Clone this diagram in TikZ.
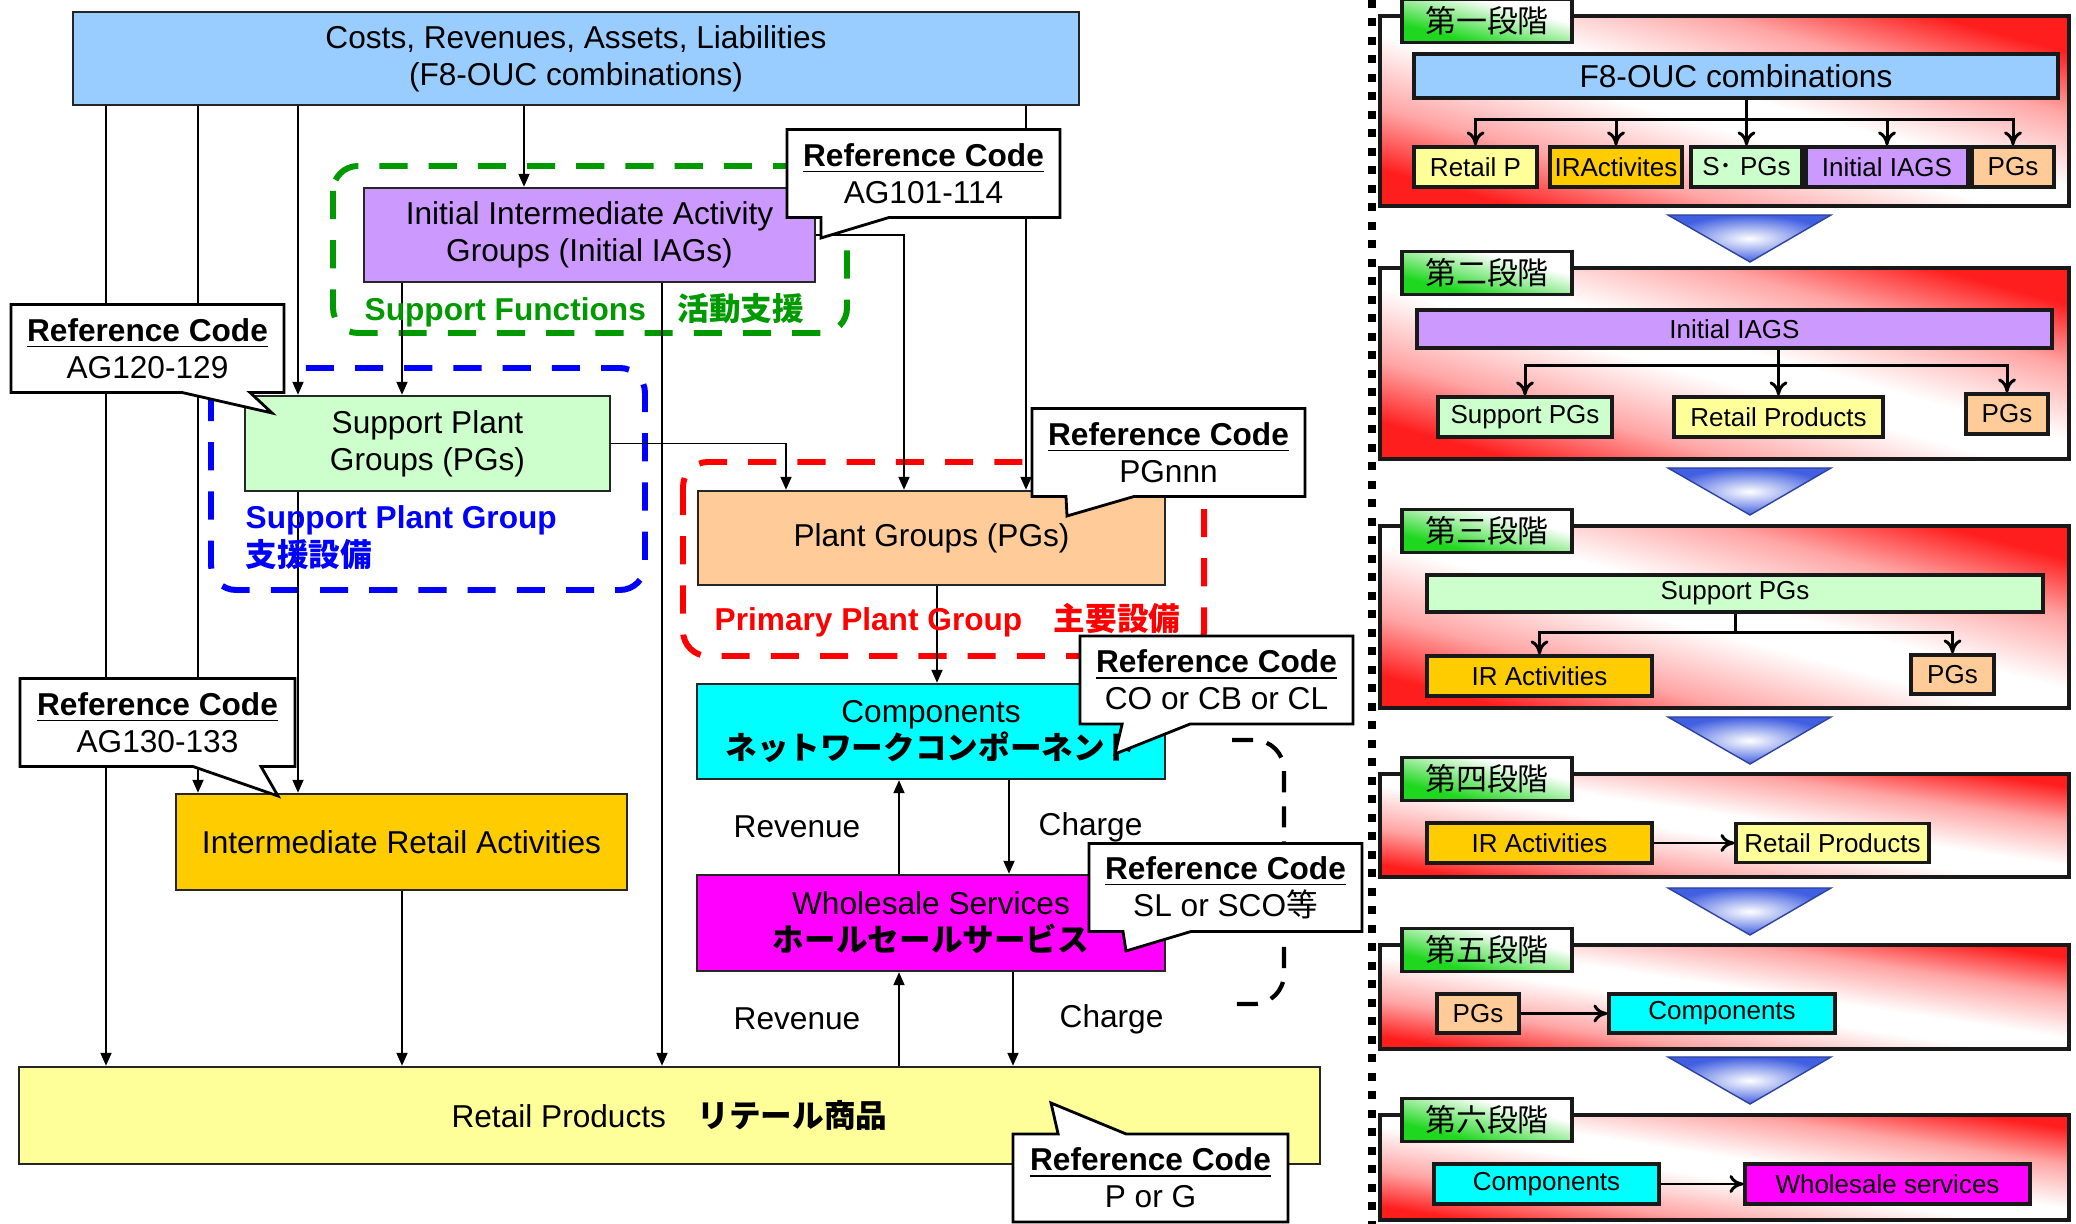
\documentclass[tikz,border=0pt]{standalone}
\usepackage{fontspec}
\setmainfont{Liberation Sans}
\newfontfamily\jpfont{Noto Sans CJK JP}
\usetikzlibrary{positioning, arrows.meta, shapes.callouts}
\definecolor{costsBlue}{RGB}{153,204,255}
\definecolor{iagPurple}{RGB}{204,153,255}
\definecolor{spgGreen}{RGB}{204,255,204}
\definecolor{pgOrange}{RGB}{255,204,153}
\definecolor{compCyan}{RGB}{0,255,255}
\definecolor{whsMagenta}{RGB}{255,0,255}
\definecolor{iraGold}{RGB}{255,204,0}
\definecolor{retailYellow}{RGB}{255,255,153}
\definecolor{groupGreen}{RGB}{0,153,0}
\definecolor{groupBlue}{RGB}{0,0,255}
\definecolor{groupRed}{RGB}{255,0,0}
\definecolor{stageRed}{RGB}{255,30,30}
\definecolor{stagePink}{RGB}{255,165,165}
\definecolor{stageGreen}{RGB}{30,215,30}
\definecolor{triBlue}{RGB}{65,95,225}
\pgfdeclareverticalshading{stagefade}{100bp}{color(0bp)=(stageRed); color(25bp)=(stageRed);
  color(35bp)=(stagePink); color(47bp)=(white); color(53bp)=(white); color(65bp)=(stagePink);
  color(75bp)=(stageRed); color(100bp)=(stageRed)}
\pgfdeclareverticalshading{lblfade}{100bp}{color(0bp)=(stageGreen); color(32bp)=(stageGreen);
  color(64bp)=(white); color(100bp)=(white)}
\tikzset{
  box/.style={draw=black!85, line width=0.7pt, inner sep=0pt, align=center},
  arr/.style={-{Triangle[length=1.3mm,width=1.1mm]}, line width=0.55pt},
  refcode/.style={rectangle callout, draw, fill=white, line width=0.8pt,
    callout pointer width=6.8mm, minimum width=27.3mm, minimum height=8.8mm,
    inner sep=0pt, align=center},
  grpframe/.style={line width=1.7pt, dash pattern=on 8pt off 6pt, rounded corners=2.5mm},
  grplabel/.style={font=\fontsize{9}{10.8}\selectfont\bfseries, anchor=west,
    inner sep=0pt, align=left},
  sbox/.style={draw=black!90, line width=0.9pt, inner sep=0pt,
    font=\fontsize{7.4}{9}\selectfont, minimum height=4mm},
  stagebox/.style={draw=black!90, line width=1pt, shade, shading=stagefade},
  stagelbl/.style={draw=black!90, line width=1pt, shade, shading=lblfade, shading angle=-14.2,
    minimum width=17mm, minimum height=4.3mm, inner sep=0pt,
    font=\jpfont\fontsize{8.8}{9}\selectfont},
  sarr/.style={-{Computer Modern Rightarrow[length=1.4mm,width=1.8mm]}, line width=0.85pt},
  tri/.style={draw=triBlue!70!black, line width=0.4pt, inner color=white, outer color=triBlue},
}

\begin{document}
\begin{tikzpicture}[x=0.1mm, y=-0.1mm, font=\fontsize{9}{10.5}\selectfont]
  \useasboundingbox (0,0) rectangle (2076,1224);

  % group frames
  \draw[grpframe, groupGreen] (333,166) rectangle (847,333);
  \draw[grpframe, groupBlue] (211,368) rectangle (645,590);
  \draw[grpframe, groupRed] (683,462) rectangle (1204,656);

  % boxes
  \node[box, fill=costsBlue, minimum width=100.6mm, minimum height=9.3mm] (costs) at (576,58.5)
    {Costs, Revenues, Assets, Liabilities\\(F8-OUC combinations)};
  \node[box, fill=iagPurple, minimum width=45.1mm, minimum height=9.4mm] (iag) at (589.5,235)
    {Initial Intermediate Activity\\Groups (Initial IAGs)};
  \node[box, fill=spgGreen, minimum width=36.5mm, minimum height=9.5mm] (spg) at (427.5,443.5)
    {Support Plant\\Groups (PGs)};
  \node[box, fill=pgOrange, minimum width=46.7mm, minimum height=9.4mm] (pg) at (931.5,538)
    {Plant Groups (PGs)};
  \node[box, fill=compCyan, minimum width=46.8mm, minimum height=9.5mm] (comp) at (931,731.5)
    {Components\\{\jpfont\bfseries ネットワークコンポーネント}};
  \node[box, fill=whsMagenta, minimum width=46.8mm, minimum height=9.6mm] (whs) at (931,923)
    {Wholesale Services\\{\jpfont\bfseries ホールセールサービス}};
  \node[box, fill=iraGold, minimum width=45.1mm, minimum height=9.6mm] (ira) at (401.5,842)
    {Intermediate Retail Activities};
  \node[box, fill=retailYellow, minimum width=130.1mm, minimum height=9.7mm] (retail) at (669.5,1115.5)
    {Retail Products\quad{\jpfont\bfseries リテール商品}};

  % flows
  \draw[arr] (costs.south -| 106,0) -- (retail.north -| 106,0);
  \draw[arr] (costs.south -| 198,0) -- (ira.north -| 198,0);
  \draw[arr] (costs.south -| 298,0) -- (spg.north -| 298,0);
  \draw[arr] (spg.south -| 298,0) -- (ira.north -| 298,0);
  \draw[arr] (costs.south -| 524,0) -- (iag.north -| 524,0);
  \draw[arr] (costs.south -| 1026,0) -- (pg.north -| 1026,0);
  \draw[arr] (iag.south -| 402,0) -- (spg.north -| 402,0);
  \draw[arr] (iag.south -| 662,0) -- (retail.north -| 662,0);
  \draw[arr] (iag.east) -| (pg.north -| 904,0);
  \draw[arr] (spg.east) -| (pg.north -| 786,0);
  \draw[arr] (pg.south -| 937,0) -- (comp.north -| 937,0);
  \draw[arr] (ira.south -| 402,0) -- (retail.north -| 402,0);
  \draw[arr] (comp.south -| 1009,0) -- (whs.north -| 1009,0)
    node[midway, right=1.7mm] (chg1) {Charge};
  \draw[arr] (whs.north -| 899,0) -- (comp.south -| 899,0)
    node[midway, left=2.6mm] (rev1) {Revenue};
  \draw[arr] (whs.south -| 1013,0) -- (retail.north -| 1013,0)
    node[midway, right=3.4mm] (chg2) {Charge};
  \draw[arr] (retail.north -| 899,0) -- (whs.south -| 899,0)
    node[midway, left=2.6mm] (rev2) {Revenue};

  % group labels
  \node[grplabel, text=groupGreen] (sflbl) at (364,310) {Support Functions\quad{\jpfont 活動支援}};
  \node[grplabel, text=groupBlue] (spglbl) at (245,538) {Support Plant Group\\{\jpfont 支援設備}};
  \node[grplabel, text=groupRed] (pplbl) at (714,620) {Primary Plant Group\quad{\jpfont 主要設備}};

  % wholesale bracket
  \draw[line width=1.2pt, dash pattern=on 6pt off 4pt, rounded corners=3mm]
    (1232,740) -- (1284,740) -- (1284,1004) -- (1232,1004);

  % reference codes
  \node[refcode, callout absolute pointer={(821,238)}] (rc1) at (923.5,173.5)
    {\underline{\textbf{Reference Code}}\\AG101-114};
  \node[refcode, callout absolute pointer={(272,413)}] (rc2) at (147.5,348.5)
    {\underline{\textbf{Reference Code}}\\AG120-129};
  \node[refcode, callout absolute pointer={(1067,516)}] (rc3) at (1168.5,452.5)
    {\underline{\textbf{Reference Code}}\\PGnnn};
  \node[refcode, callout absolute pointer={(1115,754)}] (rc4) at (1216.5,680)
    {\underline{\textbf{Reference Code}}\\CO or CB or CL};
  \node[refcode, callout absolute pointer={(1126,951)}] (rc5) at (1225.5,887.5)
    {\underline{\textbf{Reference Code}}\\SL or SCO{\jpfont 等}};
  \node[refcode, minimum width=27.5mm, callout absolute pointer={(278,796)}] (rc6) at (157.5,722.5)
    {\underline{\textbf{Reference Code}}\\AG130-133};
  \node[refcode, minimum width=27.5mm, callout absolute pointer={(1051,1103)}] (rc7) at (1150.5,1178)
    {\underline{\textbf{Reference Code}}\\P or G};

  % separator
  \draw[line width=0.8mm, dash pattern=on 0.8mm off 1.05mm] (1372,0) -- (1372,1224);

  % stages
  \foreach \n/\lbl/\ya/\yb/\ang in {1/第一段階/16/206/-15.4, 2/第二段階/268/459/-15.5,
      3/第三段階/526/708/-14.8, 4/第四段階/774/877/-8.5, 5/第五段階/945/1049/-8.6,
      6/第六段階/1115/1220/-8.7}{
    \path[stagebox, shading angle=\ang] (1380,\ya) rectangle (2069,\yb);
    \node[stagelbl] (lbl\n) at (1487,\ya+5) {\lbl};
  }
  \foreach \ty in {215, 468, 717, 888, 1057}
    \path[tri] (1668,\ty) -- (1831,\ty) -- (1750,\ty+47) -- cycle;

  % stage 1
  \node[sbox, fill=costsBlue, minimum width=64.4mm, minimum height=4.4mm, font=\fontsize{9}{10}\selectfont] (f8) at (1736,76) {F8-OUC combinations};
  \node[sbox, fill=retailYellow, minimum width=12.3mm] (rp1) at (1475.5,167) {Retail P};
  \node[sbox, fill=iraGold, minimum width=13.2mm] (ira1) at (1616,167) {IRActivites};
  \node[sbox, fill=spgGreen, minimum width=11.1mm] (spg1) at (1746.5,167) {S{\jpfont ･} PGs};
  \node[sbox, fill=iagPurple, minimum width=16.2mm] (iag1) at (1887,167) {Initial IAGS};
  \node[sbox, fill=pgOrange, minimum width=8.2mm] (pg1) at (2013,167) {PGs};
  \coordinate (hub1) at (1746.5,120);
  \draw[sarr] (f8.south -| spg1.north) -- (spg1.north);
  \foreach \t in {rp1, ira1, iag1, pg1}
    \draw[sarr] (hub1) -| (\t.north);

  % stage 2
  \node[sbox, fill=iagPurple, minimum width=63.5mm, minimum height=3.8mm] (iag2) at (1734.5,329) {Initial IAGS};
  \node[sbox, fill=spgGreen, minimum width=17.4mm] (spg2) at (1525,417) {Support PGs};
  \node[sbox, fill=retailYellow, minimum width=20.9mm] (rp2) at (1778.5,417) {Retail Products};
  \node[sbox, fill=pgOrange, minimum width=8.2mm] (pg2) at (2007,414) {PGs};
  \coordinate (hub2) at (1778.5,366);
  \draw[sarr] (iag2.south -| rp2.north) -- (rp2.north);
  \foreach \t in {spg2, pg2}
    \draw[sarr] (hub2) -| (\t.north);

  % stage 3
  \node[sbox, fill=spgGreen, minimum width=61.6mm, minimum height=3.7mm] (spg3) at (1735,593.5) {Support PGs};
  \node[sbox, fill=iraGold, minimum width=22.5mm] (ira3) at (1539.5,676) {IR Activities};
  \node[sbox, fill=pgOrange, minimum width=8.3mm, minimum height=3.9mm] (pg3) at (1952.5,674.5) {PGs};
  \coordinate (hub3) at (1735,633);
  \draw[line width=0.85pt] (spg3.south) -- (hub3);
  \foreach \t in {ira3, pg3}
    \draw[sarr] (hub3) -| (\t.north);

  % stage 4
  \node[sbox, fill=iraGold, minimum width=22.5mm] (ira4) at (1539.5,843) {IR Activities};
  \node[sbox, fill=retailYellow, minimum width=19.3mm, minimum height=3.9mm] (rp4) at (1832.5,843) {Retail Products};
  \draw[sarr] (ira4.east) -- (rp4.west);

  % stage 5
  \node[sbox, fill=pgOrange, minimum width=8.2mm, minimum height=3.9mm] (pg5) at (1478,1013.5) {PGs};
  \node[sbox, fill=compCyan, minimum width=22.6mm, minimum height=3.9mm] (comp5) at (1722,1013.5) {Components};
  \draw[sarr] (pg5.east) -- (comp5.west);

  % stage 6
  \node[sbox, fill=compCyan, minimum width=22.5mm] (comp6) at (1546.5,1184) {Components};
  \node[sbox, fill=whsMagenta, minimum width=28.5mm] (whs6) at (1887.5,1184) {Wholesale services};
  \draw[sarr] (comp6.east) -- (whs6.west);
\end{tikzpicture}
\end{document}
